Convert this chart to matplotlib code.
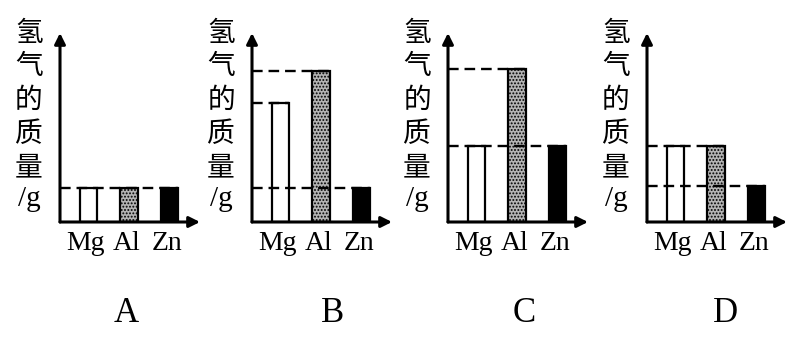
import matplotlib
matplotlib.use('Agg')
import matplotlib.pyplot as plt
import numpy as np

plt.rcParams['font.family'] = ['Liberation Serif', 'DejaVu Serif']
plt.rcParams['hatch.linewidth'] = 0.9

metals = ['Mg', 'Al', 'Zn']
panels = ['A', 'B', 'C', 'D']
# hydrogen mass (arbitrary units)
h2_A = [1.0, 1.0, 1.0]
h2_B = [3.5, 4.45, 1.0]
h2_C = [2.25, 4.5, 2.25]
h2_D = [2.25, 2.25, 1.05]
ylabel_chars = ['氢', '气', '的', '质', '量']

W, H = 796, 342
fig = plt.figure(figsize=(W / 100, H / 100), dpi=100)

axis_x = [60, 252, 448, 647]   # pixel x of each y-axis
ax_bottom, ax_top, ax_len = 222, 33, 140
span = 40.5                    # px between bar centres
x0 = -28.5 / span
xlim = (x0, x0 + ax_len / span)
ylim = (0, 5.56)
bw = 0.43

faces = ['white', '#b4b4b4', 'black']
hatches = [None, '.....', None]

for i, (name, vals) in enumerate(zip(panels, [h2_A, h2_B, h2_C, h2_D])):
    ax = fig.add_axes([axis_x[i] / W, (H - ax_bottom) / H, ax_len / W, (ax_bottom - ax_top) / H])
    ax.set_xlim(*xlim)
    ax.set_ylim(*ylim)
    ax.set_axis_off()
    x = np.arange(len(metals))
    for xi, v, fc, ht in zip(x, vals, faces, hatches):
        ax.bar(xi, v, width=bw, color=fc, edgecolor='black', linewidth=1.6, hatch=ht, zorder=2)
    # dashed guides from the axis to the right edge of the last bar with that height
    for v in sorted(set(vals)):
        last = max(xi for xi, vv in zip(x, vals) if vv == v)
        ax.plot([xlim[0], last + bw / 2], [v, v], color='black', lw=1.7,
                linestyle=(0, (4.5, 2.5)), zorder=3, clip_on=False)
    # axes with arrows
    ax.annotate('', xy=(1, 0), xytext=(0, 0), xycoords='axes fraction',
                arrowprops=dict(arrowstyle='-|>', color='black', lw=2.2, mutation_scale=16,
                                shrinkA=0, shrinkB=0))
    ax.annotate('', xy=(0, 1), xytext=(0, 0), xycoords='axes fraction',
                arrowprops=dict(arrowstyle='-|>', color='black', lw=2.2, mutation_scale=16,
                                shrinkA=0, shrinkB=0))
    # category labels
    for xi, m in zip(x, metals):
        ax.text(xi - 0.07, -0.64, m, ha='center', va='center', fontsize=20)
    # vertical y label
    for k, ch in enumerate(ylabel_chars):
        ax.annotate(ch, xy=(0, 1), xycoords='axes fraction', xytext=(-31, -33.5 * k),
                    textcoords='offset pixels', ha='center', va='center', fontsize=20,
                    family=['Noto Sans CJK SC', 'DejaVu Sans'])
    ax.annotate('/g', xy=(0, 1), xycoords='axes fraction', xytext=(-31, -166),
                textcoords='offset pixels', ha='center', va='center', fontsize=21)
    # panel letter
    ax.annotate(name, xy=(0, 0), xycoords='axes fraction', xytext=(66 + [0, 15, 10, 12][i], -92),
                textcoords='offset pixels', ha='center', va='center', fontsize=25)

fig.savefig('out.png', dpi=100)
